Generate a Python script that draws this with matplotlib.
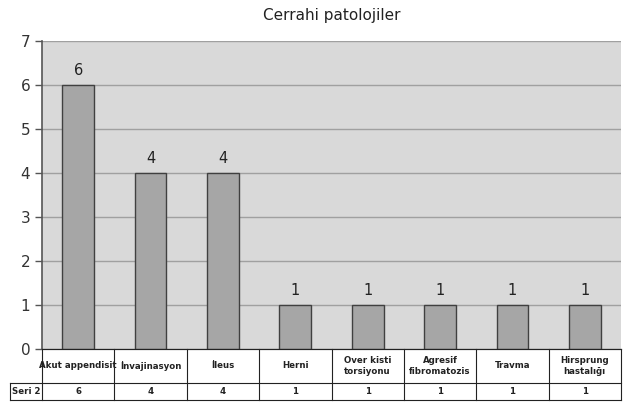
import matplotlib.pyplot as plt
from matplotlib.lines import Line2D

categorias = ['Akut appendisit', 'İnvajinasyon', 'İleus', 'Herni',
              'Over kisti\ntorsiyonu', 'Agresif\nfibromatozis', 'Travma',
              'Hirsprung\nhastalığı']
valores = [6, 4, 4, 1, 1, 1, 1, 1]
serie = 'Seri 2'

W, H = 637, 404
fig = plt.figure(figsize=(W / 100, H / 100), dpi=100)
fig.patch.set_facecolor('white')

# área del gráfico en píxeles: x 42..621, y 41..349
x0, x1, y0, y1 = 42, 621, 41, 349
ax = fig.add_axes([x0 / W, 1 - y1 / H, (x1 - x0) / W, (y1 - y0) / H])
ax.set_facecolor('#d9d9d9')

x = range(len(valores))
bars = ax.bar(x, valores, width=0.44, color='#a6a6a6', edgecolor='#404040',
              linewidth=1.0, zorder=3)
ax.bar_label(bars, labels=[str(v) for v in valores], padding=5,
             fontsize=10.5, color='#222222')

ax.set_xlim(-0.5, len(valores) - 0.5)
ax.set_ylim(0, 7)
ax.set_yticks(range(8))
ax.set_xticks([])
ax.tick_params(axis='y', labelsize=11, colors='#555555', labelcolor='#333333',
               length=5, width=1, direction='out')
ax.yaxis.grid(True, color='#a0a0a0', linewidth=1, zorder=0)
ax.set_axisbelow(True)
for s in ('top', 'right'):
    ax.spines[s].set_visible(False)
ax.spines['left'].set_color('#555555')
ax.spines['left'].set_linewidth(1.2)
ax.spines['bottom'].set_color('#555555')

ax.set_title('Cerrahi patolojiler', fontsize=11, color='#222222', pad=15)


# tabla de datos debajo del eje (dibujada a mano en píxeles)
def fx(px):
    return px / W


def fy(py):
    return 1 - py / H


def linea(xa, ya, xb, yb):
    fig.add_artist(Line2D([fx(xa), fx(xb)], [fy(ya), fy(yb)],
                          color='#222222', linewidth=0.8))


lab_x = 10
r0, r1, r2 = 349, 383, 400
col_w = (x1 - x0) / len(categorias)
bordes = [x0 + i * col_w for i in range(len(categorias) + 1)]

linea(x0, r0, x1, r0)
linea(lab_x, r1, x1, r1)
linea(lab_x, r2, x1, r2)
linea(lab_x, r1, lab_x, r2)
for b in bordes:
    linea(b, r0, b, r2)

estilo = dict(ha='center', va='center', fontsize=6.2, fontweight='bold',
              color='#222222', linespacing=1.3)
fig.text(fx((lab_x + x0) / 2), fy((r1 + r2) / 2), serie, **estilo)
for i, (cat, v) in enumerate(zip(categorias, valores)):
    cx = (bordes[i] + bordes[i + 1]) / 2
    fig.text(fx(cx), fy((r0 + r1) / 2), cat, **estilo)
    fig.text(fx(cx), fy((r1 + r2) / 2), str(v), **estilo)

plt.savefig('out.png', dpi=100)
